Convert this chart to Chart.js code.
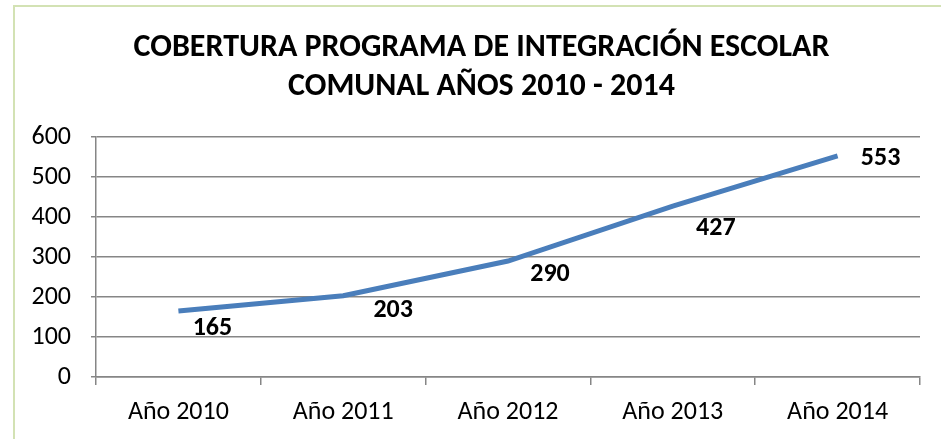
<!DOCTYPE html>
<html lang="es">
<head>
<meta charset="UTF-8"/>
<title>Cobertura Programa de Integración Escolar</title>
<script src="https://cdn.jsdelivr.net/npm/chart.js@4/dist/chart.umd.min.js"></script>
<style>
  *{box-sizing:border-box;margin:0;padding:0}
  body{width:941px;height:439px;background:#fff;position:relative;overflow:hidden}
  .frame{position:absolute;left:13px;top:5px;width:928px;height:434px;border:2px solid #d3e2b4;border-right:none;border-bottom:none}
  canvas{position:absolute;left:0;top:0}
</style>
</head>
<body>
<div class="frame"></div>
<canvas id="chart" width="941" height="439"></canvas>
<script>
// ── Data ────────────────────────────────────────────────────────────────────
const years  = ['Año 2010', 'Año 2011', 'Año 2012', 'Año 2013', 'Año 2014'];
const alumnos = [165, 203, 290, 427, 553];
const yTicks = [0, 100, 200, 300, 400, 500, 600];
const titleLines = ['COBERTURA PROGRAMA DE INTEGRACIÓN ESCOLAR', 'COMUNAL AÑOS 2010 - 2014'];

// label placement relative to each point (px), as in the original sheet
const labelShift = [[34, 17], [50, 15], [42, 13], [43, 22], [43, 3]];

const FONT = 'Carlito, Calibri, "Liberation Sans", sans-serif';
const GRID = '#868686';

const valueLabels = {
  id: 'valueLabels',
  afterDatasetsDraw(chart) {
    const ctx = chart.ctx;
    const meta = chart.getDatasetMeta(0);
    ctx.save();
    ctx.font = 'bold 26px ' + FONT;
    ctx.fillStyle = '#000';
    ctx.textAlign = 'center';
    ctx.textBaseline = 'middle';
    meta.data.forEach((pt, i) => {
      const [dx, dy] = labelShift[i];
      ctx.fillText(String(alumnos[i]), pt.x + dx, pt.y + dy);
    });
    ctx.restore();
  }
};

new Chart(document.getElementById('chart'), {
  type: 'line',
  data: {
    labels: years,
    datasets: [{
      data: alumnos,
      borderColor: '#4a7ebb',
      borderWidth: 5,
      pointRadius: 0,
      tension: 0,
      fill: false,
    }]
  },
  options: {
    responsive: false,
    animation: false,
    layout: { padding: { left: 22, right: 0, top: 0, bottom: 0 } },
    plugins: {
      legend: { display: false },
      tooltip: { enabled: false },
      title: {
        display: true,
        text: titleLines,
        color: '#000',
        font: { family: FONT, size: 32, weight: 'bold', lineHeight: '39px' },
        padding: { top: 28, bottom: 31 },
      },
    },
    scales: {
      x: {
        offset: true,
        grid: { offset: true, drawOnChartArea: false, drawTicks: true, tickLength: 8, color: GRID, lineWidth: 1.5 },
        border: { color: GRID, width: 1.5 },
        ticks: { color: '#000', font: { family: FONT, size: 26 }, padding: 12, maxRotation: 0 },
        afterFit(scale) { scale.height = 62; },
      },
      y: {
        min: 0,
        max: 600,
        afterBuildTicks(scale) { scale.ticks = yTicks.map(v => ({ value: v })); },
        grid: { color: GRID, lineWidth: 1.5, tickLength: 5 },
        border: { color: GRID, width: 1.5 },
        ticks: { color: '#000', font: { family: FONT, size: 26 }, padding: 20 },
        afterFit(scale) { scale.width = 74; },
      },
      // empty right-hand strip so the plot ends where the original does
      yRight: {
        position: 'right',
        grid: { display: false },
        border: { display: false },
        ticks: { display: false },
        afterFit(scale) { scale.width = 21; },
      },
    },
  },
  plugins: [valueLabels],
});
</script>
</body>
</html>
